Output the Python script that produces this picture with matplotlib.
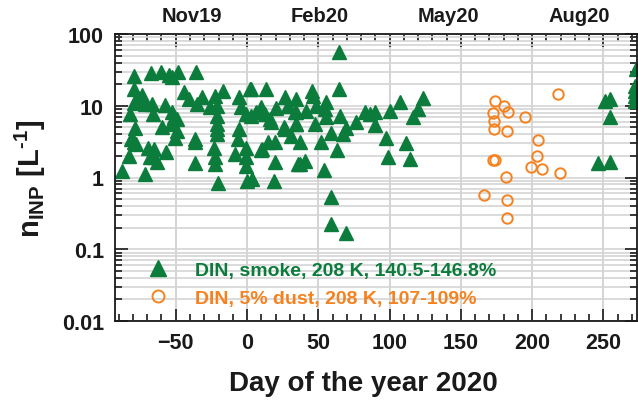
import matplotlib
matplotlib.use('Agg')
import matplotlib.pyplot as plt
import matplotlib.transforms as mtransforms
from matplotlib.ticker import LogLocator, NullFormatter, MultipleLocator

plt.rcParams['font.family'] = ['Liberation Sans', 'DejaVu Sans']
plt.rcParams['mathtext.fontset'] = 'custom'
plt.rcParams['mathtext.rm'] = 'Liberation Sans:bold'
plt.rcParams['mathtext.bf'] = 'Liberation Sans:bold'
plt.rcParams['mathtext.it'] = 'Liberation Sans:bold'

# smoke INP (day of year, n_INP in 1/L)
smoke_day = [-79.4, -67.7, -60.2, -54.9, -52.5, -48.6, -35.7, -79.6, -73.6,
             -79.0, -77.3, -71.9, -66.5, -57.2, -81.8, -66.1, -52.5, -50.9, -49.3,
             -78.5, -59.5, -53.2, -49.3, -50.2, -81.3, -79.0, -77.8, -36.8, -36.8,
             -69.6, -65.4, -68.4, -64.9, -63.3, -56.7, -82.5, -87.6, -71.4, -36.4,
             -22.8, -22.3, -20.5, -23.3, -21.2, -21.2, -21.2, -21.2, -21.2,
             -26.3, -22.8, -17.0, -43.9, -40.8, -35.2, -31.4,
             -6.4, -8.1, -0.6, -0.6, -0.6, 0.1, 3.6, -5.3, -4.1, -0.6, 2.2, -5.3,
             13.5, 14.6, 19.3, 10.7, 19.3, 18.6, 26.3, 28.6, 25.8, 31.0, 34.5, 33.3,
             34.5, 35.7, 64.4, 2.9, 45.7, 46.2, 55.6, 64.2,
             10.0, 6.5, 2.9, 12.3, 15.8, 20.0, 28.6, 34.0, 41.5, 48.5, 54.4, 55.6,
             65.4, 82.5, 86.0, 89.5, 100.0, 119.9, 116.4, 107.0, 123.4,
             17.0, 34.5, 47.4, 76.1, 69.6, 59.1, 67.2, 89.5, 26.3, 36.8, 52.0, 10.0,
             63.0, 97.2, 111.7, 36.8, 40.4, 53.7, 98.8, 114.0, 59.1, 58.6, 69.6,
             250.9, 254.4, 254.9, 246.2, 254.4, 273.0, 272.0, 272.0, 272.0, 272.0]
smoke_n = [26.2, 28.3, 29.2, 26.8, 25.0, 29.2, 29.2, 17.1, 14.1,
           10.9, 12.4, 10.6, 10.6, 10.2, 7.7, 7.7, 8.1, 6.9, 6.5,
           4.9, 5.0, 5.6, 4.5, 3.6, 3.4, 3.1, 2.9, 3.4, 3.1,
           2.6, 2.5, 1.9, 1.9, 1.63, 2.3, 2.0, 1.24, 1.12, 1.59,
           1.93, 1.56, 0.84, 2.6, 10.0, 7.3, 5.6, 4.7, 4.1,
           9.6, 13.8, 16.2, 15.4, 12.4, 10.6, 13.1,
           3.4, 2.1, 2.6, 1.9, 1.46, 0.9, 0.94, 13.1, 9.5, 7.7, 17.1, 4.7,
           17.1, 3.1, 3.1, 2.5, 1.63, 0.9, 13.1, 10.0, 5.0, 3.8, 12.4, 8.1,
           5.6, 1.56, 56.6, 17.1, 16.2, 13.8, 11.2, 17.1,
           9.5, 8.1, 7.3, 7.7, 6.5, 9.2, 9.8, 8.1, 8.5, 10.0, 9.0, 6.9,
           7.1, 8.3, 7.7, 8.1, 8.5, 9.0, 6.9, 11.2, 12.7,
           5.9, 5.6, 5.6, 5.9, 4.9, 4.2, 4.0, 5.4, 4.7, 3.1, 3.1, 2.4,
           2.4, 3.6, 3.0, 1.56, 1.71, 1.27, 1.95, 1.83, 0.53, 0.225, 0.17,
           11.7, 12.4, 6.9, 1.6, 1.66, 32.5, 19.0, 16.2, 13.8, 11.7]

# 5% dust INP
dust_day = [173.7, 172.5, 173.2, 173.2, 172.6, 173.8, 166.2, 180.2, 183.3, 182.6,
            194.7, 218.4, 204.1, 203.4, 199.4, 206.7, 219.8, 181.4, 182.1, 182.1]
dust_n = [11.7, 7.9, 6.2, 4.7, 1.75, 1.75, 0.57, 10.0, 8.3, 4.4,
          6.9, 14.4, 3.3, 2.0, 1.42, 1.31, 1.16, 1.03, 0.48, 0.27]

month_labels = ['Nov19', 'Feb20', 'May20', 'Aug20']
month_pos = [-39, 51, 141, 233]

green = '#0b7c3b'
orange = '#f5821f'
dark = '#1a1a1a'

fig = plt.figure(figsize=(6.38, 4.02), dpi=100)
ax = fig.add_axes([115 / 638, (402 - 322) / 402, (637 - 115) / 638, (322 - 35) / 402])

ax.plot(smoke_day, smoke_n, ls='none', marker='^', ms=10, color=green,
        mec=green, label='DIN, smoke, 208 K, 140.5-146.8%')
ax.plot(dust_day, dust_n, ls='none', marker='o', ms=7.5, mfc='none', mec=orange,
        mew=1.4, label='DIN, 5% dust, 208 K, 107-109%')

ax.set_yscale('log')
ax.set_ylim(0.01, 100)
ax.set_xlim(-92.6, 273.5)
ax.xaxis.set_major_locator(MultipleLocator(50))
ax.xaxis.set_minor_locator(MultipleLocator(10))
ax.yaxis.set_minor_locator(LogLocator(base=10, subs=range(2, 10)))
ax.yaxis.set_minor_formatter(NullFormatter())
ax.set_yticks([0.01, 0.1, 1, 10, 100])
ax.set_yticklabels(['0.01', '0.1', '1', '10', '100'])

ax.grid(True, which='major', axis='x', color='#d4d4d4', lw=1.4)
ax.grid(True, which='both', axis='y', color='#d4d4d4', lw=1.2)
ax.set_axisbelow(True)

ax.tick_params(which='both', direction='in', top=True, right=True, width=1.2,
               labelsize=15.5, pad=8, colors=dark)
ax.tick_params(which='major', length=9)
ax.tick_params(which='minor', length=5)
for lab in ax.get_xticklabels() + ax.get_yticklabels():
    lab.set_fontweight('bold')
for s in ax.spines.values():
    s.set_linewidth(1.3)
    s.set_color(dark)

trans = mtransforms.blended_transform_factory(ax.transData, ax.transAxes)
for lab, pos in zip(month_labels, month_pos):
    ax.text(pos, 1 + 18 / 287, lab, transform=trans, ha='center', va='center',
            fontsize=14.5, fontweight='bold', color=dark)

ax.set_xlabel('Day of the year 2020', fontsize=20, fontweight='bold',
              color=dark, labelpad=12, x=(363 - 115) / 522)
ax.set_ylabel(r'$\mathbf{n_{INP}\ [L^{\text{-}1}]}$', fontsize=21, color=dark,
              labelpad=10)

leg = ax.legend(loc='lower left', bbox_to_anchor=(0.012, -0.012), frameon=False,
                handletextpad=0.9, labelspacing=0.55, markerscale=1.15,
                labelcolor=[green, orange],
                prop={'weight': 'bold', 'size': 14})

fig.savefig('out.png', dpi=100)
